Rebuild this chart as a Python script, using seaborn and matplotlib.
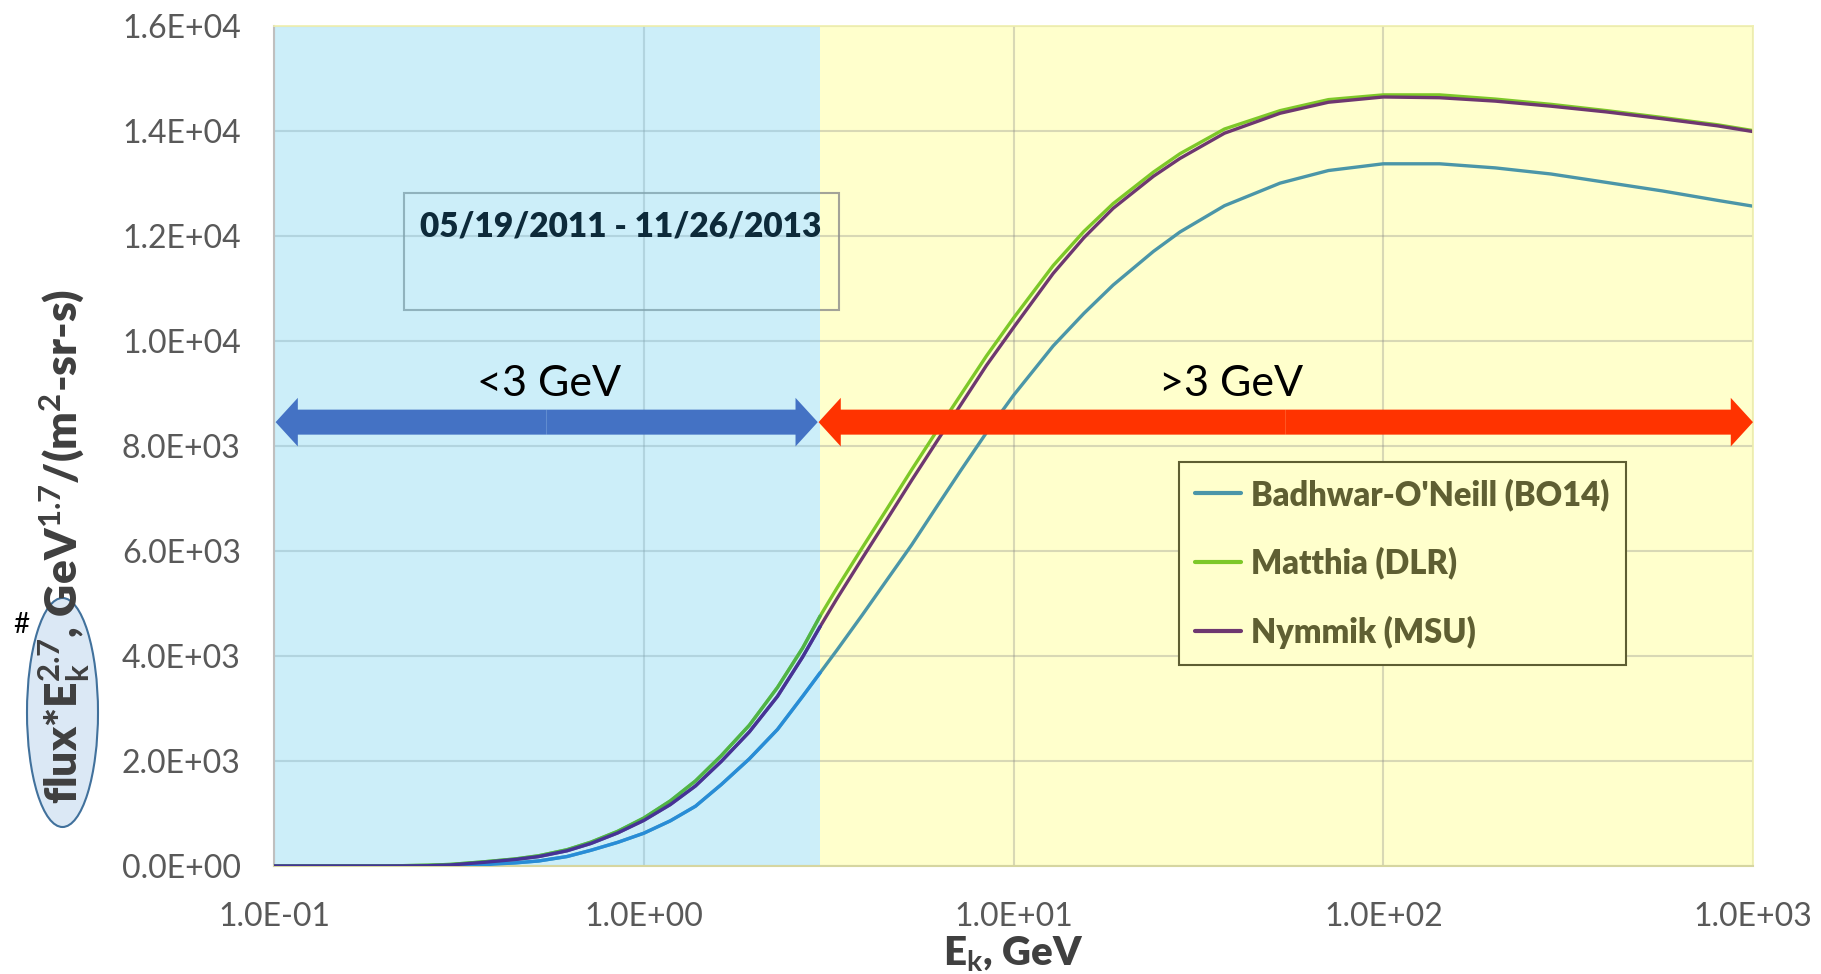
import matplotlib
matplotlib.use("Agg")
import numpy as np
import pandas as pd
import matplotlib.pyplot as plt
import seaborn as sns
from matplotlib.patches import Ellipse, Rectangle, FancyArrowPatch
from matplotlib.ticker import FixedLocator, FuncFormatter, NullLocator

# Kinetic energy grid (GeV) and flux*E^2.7 for each GCR model
energy_gev = [0.1, 0.15, 0.2, 0.26, 0.3, 0.37, 0.45, 0.52, 0.62, 0.72, 0.85, 1.0,
              1.18, 1.38, 1.62, 1.93, 2.3, 2.69, 3.0, 3.33, 3.9, 4.54, 5.3, 6.2,
              7.2, 8.45, 10, 12.8, 15.5, 18.6, 23.9, 28.2, 37.2, 52.6, 71.1, 100,
              142, 201, 284, 402, 568, 803, 1000]

bo14 = [0, 0, 0, 0, 8, 25, 60, 96, 180, 300, 450, 624, 860, 1138, 1550, 2040,
        2600, 3230, 3680, 4110, 4780, 5440, 6110, 6840, 7530, 8250, 8960, 9900,
        10520, 11060, 11700, 12070, 12570, 13000, 13240, 13368, 13368, 13290,
        13174, 13013, 12852, 12671, 12561]

matthia = [0, 0, 0, 15, 30, 80, 135, 195, 310, 455, 660, 913, 1240, 1620, 2100,
           2680, 3400, 4150, 4760, 5290, 6060, 6790, 7540, 8280, 8970, 9710,
           10430, 11430, 12080, 12610, 13210, 13560, 14030, 14380, 14590, 14680,
           14680, 14600, 14500, 14380, 14250, 14110, 14000]

nymmik = [0, 0, 0, 5, 20, 70, 125, 180, 290, 430, 630, 868, 1170, 1524, 1990,
          2553, 3230, 3980, 4560, 5090, 5860, 6590, 7340, 8080, 8780, 9530,
          10250, 11280, 11960, 12520, 13130, 13470, 13950, 14330, 14540, 14640,
          14626, 14561, 14465, 14355, 14226, 14090, 13981]

series_names = ["Badhwar-O'Neill (BO14)", "Matthia (DLR)", "Nymmik (MSU)"]
series_colors = ["#4b96a8", "#7dc828", "#6e3770"]
# same series as seen through the blue low-energy band
series_colors_low = ["#288cd7", "#50b446", "#463296"]

x_ticks = [0.1, 1, 10, 100, 1000]
y_ticks = list(range(0, 16001, 2000))

split_energy = 3.0
period_label = "05/19/2011 - 11/26/2013"
low_label = "<3 GeV"
high_label = ">3 GeV"

sns.set_theme(style="white")
plt.rcParams["font.family"] = ["Lato", "DejaVu Sans"]
plt.rcParams["mathtext.fontset"] = "custom"
plt.rcParams["mathtext.rm"] = "Lato"
plt.rcParams["mathtext.bf"] = "Lato:bold"
plt.rcParams["mathtext.it"] = "Lato:italic"

fig = plt.figure(figsize=(18.21, 9.74), dpi=100)
fig.patch.set_facecolor("white")
ax = fig.add_axes([0.15047, 0.11088, 0.81219, 0.8629])
ax.set_facecolor("white")

df = pd.DataFrame({
    "E": energy_gev * 3,
    "flux": bo14 + matthia + nymmik,
    "model": [name for name in series_names for _ in energy_gev],
})

sns.lineplot(data=df, x="E", y="flux", hue="model", hue_order=series_names,
             palette=dict(zip(series_names, series_colors)), estimator=None,
             sort=False, lw=2.4, ax=ax, zorder=2)

ax.set_xscale("log")
ax.set_xlim(x_ticks[0], x_ticks[-1])
ax.set_ylim(y_ticks[0], y_ticks[-1])

# Energy bands
ax.axvspan(split_energy, x_ticks[-1], color="#ffffcc", lw=0, zorder=0)
ax.axvspan(x_ticks[0], split_energy, color="#6dcfee", alpha=0.35, lw=0, zorder=2.5)

# Low-energy part of the curves, tinted by the blue band
df_low = df[df["E"] <= split_energy]
sns.lineplot(data=df_low, x="E", y="flux", hue="model", hue_order=series_names,
             palette=dict(zip(series_names, series_colors_low)), estimator=None,
             sort=False, lw=2.4, ax=ax, zorder=2.6, legend=False)

ax.set_axisbelow(True)
ax.grid(True, which="major", color="#808080", alpha=0.3, lw=1.5)

ax.xaxis.set_major_locator(FixedLocator(x_ticks))
ax.xaxis.set_minor_locator(NullLocator())
ax.yaxis.set_major_locator(FixedLocator(y_ticks))
sci = FuncFormatter(lambda v, _: f"{v:.1E}")
ax.xaxis.set_major_formatter(sci)
ax.yaxis.set_major_formatter(sci)
ax.tick_params(axis="both", length=0, labelsize=23, labelcolor="#595959")
ax.tick_params(axis="y", pad=24)
ax.tick_params(axis="x", pad=26)

for side, spine in ax.spines.items():
    spine.set_visible(True)
ax.spines["left"].set_color("#bfbfbf")
ax.spines["left"].set_linewidth(1.5)
ax.spines["bottom"].set_color("#d6d6a0")
ax.spines["bottom"].set_linewidth(1.5)
ax.spines["top"].set_color("#f0f0b0")
ax.spines["right"].set_color("#f0f0b0")

ax.set_xlabel(r"E$_{\mathbf{k}}$, GeV", fontsize=29, fontweight="heavy",
              color="#404040", labelpad=2)
ax.set_ylabel("")

# Observation period box
box_x0, box_x1 = 0.225, 3.37
box_y0, box_y1 = 10586, 12818
ax.add_patch(Rectangle((box_x0, box_y0), box_x1 - box_x0, box_y1 - box_y0,
                       fill=False, edgecolor="#8c8c8c", lw=1.5, alpha=0.8,
                       zorder=2.2))
ax.text(0.864, 12177, period_label, fontsize=24, fontweight="heavy",
        color="#0d2a3a", ha="center", va="center", zorder=4)


def double_arrow(x0, x1, y, color):
    xm = np.sqrt(x0 * x1)
    for a, b in ((xm, x0), (xm, x1)):
        ax.add_patch(FancyArrowPatch(
            (a, y), (b, y),
            arrowstyle="simple,head_length=16,head_width=35,tail_width=18",
            mutation_scale=1, color=color, lw=0, shrinkA=0, shrinkB=0,
            zorder=5))


arrow_y = 8450
double_arrow(x_ticks[0] * 1.01, split_energy * 0.985, arrow_y, "#4472c4")
double_arrow(split_energy * 0.99, x_ticks[-1], arrow_y, "#ff3300")
ax.text(0.555, 9172, low_label, fontsize=31, color="black", ha="center",
        va="center", zorder=5)
ax.text(38.8, 9172, high_label, fontsize=31, color="black", ha="center",
        va="center", zorder=5)

handles, labels = ax.get_legend_handles_labels()
leg = ax.legend(handles[:3], labels[:3], loc="upper left",
                bbox_to_anchor=(0.612, 0.481),
                borderaxespad=0, frameon=True, fancybox=False,
                facecolor="#ffffcc", edgecolor="#5e5e32", framealpha=1,
                prop={"family": "Lato", "weight": "heavy", "size": 23.5},
                handlelength=1.4, handletextpad=0.3, labelspacing=1.1,
                borderpad=0.5)
leg.get_frame().set_linewidth(1.5)
leg.set_zorder(6)
for t in leg.get_texts():
    t.set_color("#5f5f32")
for h in leg.get_lines():
    h.set_linewidth(3)

# Y-axis title with highlighted quantity
fig.add_artist(Ellipse((62.5 / 1821, 1 - 712.5 / 974), 71 / 1821, 229 / 974,
                       transform=fig.transFigure, facecolor="#dbe8f5",
                       edgecolor="#41719c", lw=1.5, zorder=1))
fig.text(64 / 1821, 1 - 546 / 974,
         r"flux*E$_{\mathbf{k}}^{\mathbf{2.7}}$, GeV$^{\mathbf{1.7}}$/(m$^{\mathbf{2}}$-sr-s)",
         rotation=90, ha="center", va="center", fontsize=32, fontweight="heavy",
         color="#3f3f3f", zorder=5)
fig.text(21 / 1821, 1 - 625 / 974, "#", fontsize=20, ha="center", va="center",
         color="black", zorder=5)

fig.savefig("out.png", dpi=100)
